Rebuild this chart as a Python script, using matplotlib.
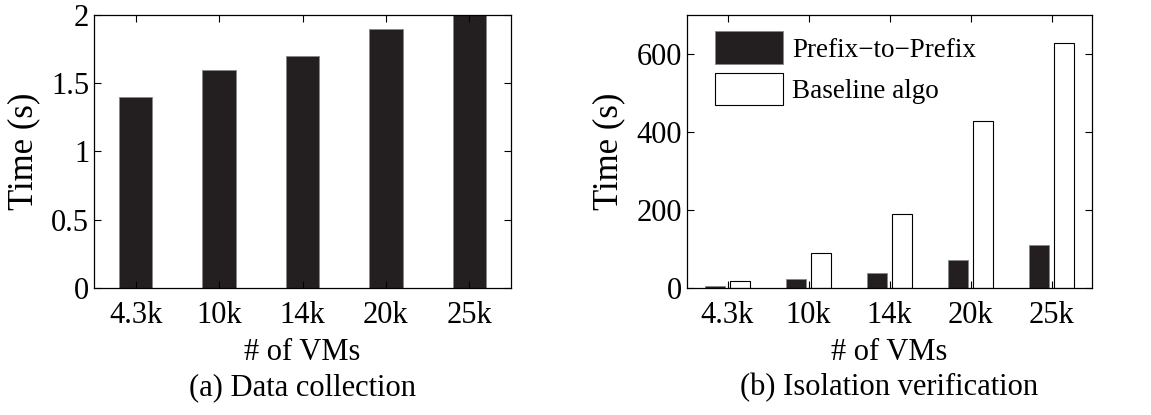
import matplotlib.pyplot as plt
import numpy as np

plt.rcParams['font.family'] = ['Liberation Serif', 'DejaVu Serif']

# Data
vm_labels = ['4.3k', '10k', '14k', '20k', '25k']
collect_time = [1.4, 1.6, 1.7, 1.9, 2.0]
p2p_time = [5, 24, 38, 72, 110]
baseline_time = [18, 90, 190, 428, 628]

DARK = '#231f20'
FS = 22

fig = plt.figure(figsize=(11.51, 4.15), dpi=100)
ax1 = fig.add_axes([94 / 1151, 1 - 288 / 415, 417 / 1151, 273 / 415])
ax2 = fig.add_axes([687 / 1151, 1 - 288 / 415, 405 / 1151, 273 / 415])

x = np.arange(1, len(vm_labels) + 1)

# (a) Data collection
ax1.bar(x, collect_time, width=0.4, color=DARK, edgecolor='#888888', linewidth=0.6)
ax1.set_ylim(0, 2)
ax1.set_yticks([0, 0.5, 1, 1.5, 2])
ax1.set_yticklabels(['0', '0.5', '1', '1.5', '2'])

# (b) Isolation verification
ax2.bar(x - 0.155, p2p_time, width=0.25, color=DARK, edgecolor='#888888',
        linewidth=0.6, label='Prefix\u2212to\u2212Prefix')
ax2.bar(x + 0.15, baseline_time, width=0.25, color='white', edgecolor='black',
        linewidth=0.8, label='Baseline algo')
ax2.set_ylim(0, 700)
ax2.set_yticks([0, 200, 400, 600])
ax2.legend(loc='upper left', frameon=False, fontsize=19.5, handlelength=2.52,
           handleheight=1.46, handletextpad=0.32, labelspacing=0.33,
           borderpad=0, borderaxespad=0, bbox_to_anchor=(0.069, 0.94))

for ax in (ax1, ax2):
    ax.set_xlim(0.5, 5.5)
    ax.set_xticks(x)
    ax.set_xticklabels(vm_labels)
    ax.tick_params(direction='in', top=True, right=True, labelsize=FS,
                   length=5, width=0.8)
    ax.tick_params(axis='x', pad=9)
    for s in ax.spines.values():
        s.set_linewidth(0.9)
    ax.set_xlabel('# of VMs', fontsize=FS, labelpad=6)
    ax.set_ylabel('Time (s)', fontsize=25, labelpad=8)

fig.text((94 + 511) / 2 / 1151, 1 - 388 / 415, '(a) Data collection',
         ha='center', va='center', fontsize=FS)
fig.text((687 + 1092) / 2 / 1151, 1 - 388 / 415, '(b) Isolation verification',
         ha='center', va='center', fontsize=FS)

fig.savefig('out.png', dpi=100)
